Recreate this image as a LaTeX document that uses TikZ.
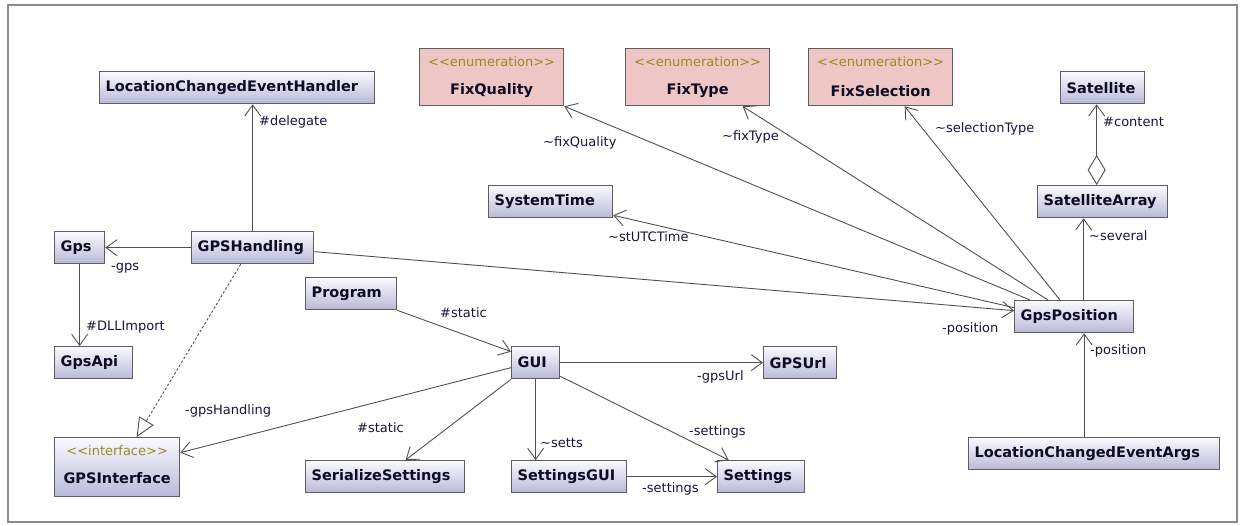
\documentclass[tikz,border=0pt]{standalone}
\usepackage{fontspec}
\setmainfont{DejaVu Sans}
\usetikzlibrary{arrows.meta}

\definecolor{clstop}{HTML}{FAFAFF}
\definecolor{clsbot}{HTML}{B9B9D8}
\definecolor{enumfill}{HTML}{EFC6C6}
\definecolor{boxline}{HTML}{5E5E5E}
\definecolor{edge}{HTML}{505050}
\definecolor{nametext}{HTML}{0C0C26}
\definecolor{labeltext}{HTML}{16163A}
\definecolor{stereotext}{HTML}{9A8A22}
\definecolor{framecol}{HTML}{8A8A8A}

\newcommand{\namefont}{\bfseries\fontsize{14.5}{17}\selectfont}
\newcommand{\lblfont}{\fontsize{13}{15}\selectfont}
\newcommand{\stfont}{\fontsize{13}{15}\selectfont}

\tikzset{
  box/.style={draw=boxline, line width=1.3pt, anchor=north west,
    inner xsep=6pt, inner ysep=0pt, text=nametext, font=\namefont,
    align=left, minimum height=32pt},
  cls/.style={box, top color=clstop, bottom color=clsbot},
  enumbox/.style={box, fill=enumfill, minimum width=144pt, minimum height=57pt},
  ifbox/.style={box, top color=clstop, bottom color=clsbot, minimum height=59pt},
  stereo/.style={inner sep=0pt, font=\stfont, text=stereotext},
  cname/.style={inner sep=0pt, font=\namefont, text=nametext},
  lbl/.style={anchor=west, inner sep=0pt, font=\lblfont, text=labeltext},
  assoc/.style={draw=edge, line width=0.9pt,
    -{Straight Barb[length=11pt,width=16pt,line width=0.9pt]}},
  realize/.style={draw=edge, line width=0.9pt, dash pattern=on 2.5pt off 2pt,
    -{Triangle[open,length=19pt,width=17pt,line width=0.9pt]}},
  aggr/.style={draw=edge, line width=0.9pt,
    {Diamond[open,length=30pt,width=18pt,line width=0.9pt]}-{Straight Barb[length=11pt,width=16pt,line width=0.9pt]}},
  frame/.style={draw=framecol, line width=1.6pt}
}

\begin{document}
\begin{tikzpicture}[x=1pt,y=-1pt]
\useasboundingbox (0,0) rectangle (1242,525);
\draw[frame] (8,5) rectangle (1237,522);

% ---- classes ----
\node[cls, text width=263pt] (lceh) at (99,71) {LocationChangedEventHandler};
\node[cls, text width=38pt] (gps) at (54,231) {Gps};
\node[cls, text width=110pt] (gpsh) at (191,231) {GPSHandling};
\node[cls, text width=66pt] (gpsapi) at (54,346) {GpsApi};
\node[ifbox, text width=113pt] (gpsif) at (54,437) {};
\node[stereo] (gpsif-st) at ([yshift=-14]gpsif.north) {{<}{<}interface{>}{>}};
\node[cname] (gpsif-nm) at ([yshift=-41]gpsif.north) {GPSInterface};
\node[cls, text width=79pt] (program) at (305,277) {Program};
\node[cls, text width=147pt] (serial) at (305,460) {SerializeSettings};
\node[cls, text width=36pt] (gui) at (511,346) {GUI};
\node[cls, text width=61pt] (gpsurl) at (763,346) {GPSUrl};
\node[cls, text width=103pt] (setgui) at (511,460) {SettingsGUI};
\node[cls, text width=75pt] (settings) at (717,460) {Settings};
\node[cls, text width=112pt] (systime) at (488,185) {SystemTime};
\node[cls, text width=72pt] (sat) at (1060,71) {Satellite};
\node[cls, text width=118pt] (satarr) at (1037,185) {SatelliteArray};
\node[cls, text width=107pt] (gpspos) at (1014,300) {GpsPosition};
\node[cls, text width=239pt] (lcea) at (968,437) {LocationChangedEventArgs};

% ---- enumerations ----
\node[enumbox] (fixq) at (419,48) {};
\node[stereo] (fixq-st) at ([yshift=-14]fixq.north) {{<}{<}enumeration{>}{>}};
\node[cname] (fixq-nm) at ([yshift=-43]fixq.north) {FixQuality};
\node[enumbox] (fixt) at (625,48) {};
\node[stereo] (fixt-st) at ([yshift=-14]fixt.north) {{<}{<}enumeration{>}{>}};
\node[cname] (fixt-nm) at ([yshift=-43]fixt.north) {FixType};
\node[enumbox] (fixs) at (808,48) {};
\node[stereo] (fixs-st) at ([yshift=-14]fixs.north) {{<}{<}enumeration{>}{>}};
\node[cname] (fixs-nm) at ([yshift=-43]fixs.north) {FixSelection};

% ---- connectors ----
\draw[assoc] (gpsh.north) -- (gpsh.north |- lceh.south);
\draw[assoc] (gpsh.west) -- (gps.east);
\draw[assoc] (gps.south) -- (gps.south |- gpsapi.north);
\draw[realize] ([xshift=-12]gpsh.south) -- ([xshift=19.5]gpsif.north);
\draw[assoc] ([yshift=-5]gui.west) -- ([yshift=14.5]gpsif.east);
\draw[assoc] (program.south east) -- ([yshift=11]gui.west);
\draw[assoc] (gui.south west) -- ([xshift=20.5]serial.north);
\draw[assoc] (gui.south) -- (gui.south |- setgui.north);
\draw[assoc] ([yshift=3]gui.south east) -- ([xshift=-32.5]settings.north);
\draw[assoc] (gui.east) -- (gui.east -| gpsurl.west);
\draw[assoc] (setgui.east) -- (setgui.east -| settings.west);
\draw[assoc] ([yshift=-4]gpsh.east) -- ([yshift=6]gpspos.west);
\draw[assoc] ([xshift=16]gpspos.north west) -- (fixq.south east);
\draw[assoc] ([xshift=34]gpspos.north west) -- ([xshift=45]fixt.south);
\draw[assoc] ([xshift=46]gpspos.north west) -- ([xshift=24]fixs.south);
\draw[assoc] ([yshift=9]gpspos.west) -- ([yshift=3]systime.south east);
\draw[assoc] ([xshift=9.5]gpspos.north) -- ([xshift=9.5]gpspos.north |- satarr.south);
\draw[aggr] ([xshift=-6]satarr.north) -- ([xshift=-6]sat.south);
\draw[assoc] ([xshift=-10]lcea.north) -- ([xshift=-10]lcea.north |- gpspos.south);

% ---- role labels ----
\node[lbl] (l-delegate) at (259,122) {\#delegate};
\node[lbl] (l-gps) at (111,268) {-gps};
\node[lbl] (l-dll) at (86,327) {\#DLLImport};
\node[lbl] (l-gpsh) at (185,411) {-gpsHandling};
\node[lbl] (l-static1) at (440,313) {\#static};
\node[lbl] (l-static2) at (357,428) {\#static};
\node[lbl] (l-gpsurl) at (697,377) {-gpsUrl};
\node[lbl] (l-setts) at (540,443) {\textasciitilde setts};
\node[lbl] (l-settings1) at (689,432) {-settings};
\node[lbl] (l-settings2) at (642,489) {-settings};
\node[lbl] (l-fixq) at (543,143) {\textasciitilde fixQuality};
\node[lbl] (l-fixt) at (722,137) {\textasciitilde fixType};
\node[lbl] (l-sel) at (935,129) {\textasciitilde selectionType};
\node[lbl] (l-utc) at (608,237) {\textasciitilde stUTCTime};
\node[lbl] (l-pos1) at (942,329) {-position};
\node[lbl] (l-pos2) at (1090,351) {-position};
\node[lbl] (l-several) at (1089,236) {\textasciitilde several};
\node[lbl] (l-content) at (1103,122) {\#content};
\end{tikzpicture}
\end{document}
